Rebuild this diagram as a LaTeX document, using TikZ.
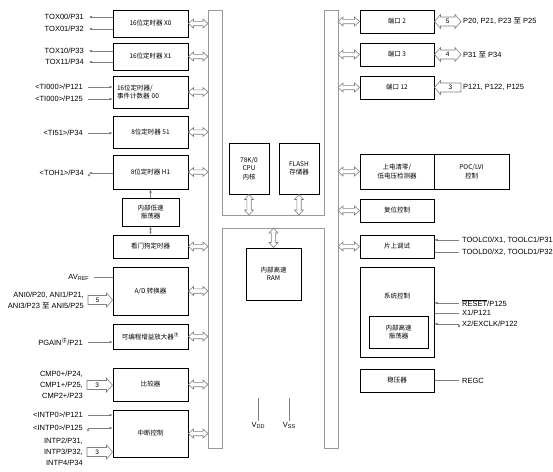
\documentclass[tikz,border=0pt]{standalone}
\usepackage{fontspec}
\setmainfont{Liberation Sans}
\newfontfamily\cjk{Noto Sans CJK SC}
\newcommand{\zh}[1]{{\cjk #1}}
\usetikzlibrary{positioning,arrows.meta,calc}

\begin{document}
\begin{tikzpicture}[x=1pt,y=-1pt,on grid,>={Latex[length=3pt,width=2.6pt]},
    font=\fontsize{7.5}{11}\selectfont,
    block node/.style={draw,line width=1pt,minimum width=75pt,inner sep=1pt,align=center,font=\cjk\fontsize{6.5}{8.5}\selectfont},
    pin label/.style={inner sep=1pt,align=right},
    pin line/.style={draw=black!50,line width=.5pt},
    bus wall/.style={draw=black!40,line width=.8pt},
    bus arrow/.style={draw=black!50,fill=white,line width=.6pt,to path={
      -- ($(\tikztostart)!5pt!(\tikztotarget)!4.5pt!90:(\tikztotarget)$)
      -- ($(\tikztostart)!5pt!(\tikztotarget)!2.2pt!90:(\tikztotarget)$)
      -- ($(\tikztotarget)!5pt!(\tikztostart)!2.2pt!-90:(\tikztostart)$)
      -- ($(\tikztotarget)!5pt!(\tikztostart)!4.5pt!-90:(\tikztostart)$)
      -- (\tikztotarget)
      -- ($(\tikztotarget)!5pt!(\tikztostart)!4.5pt!90:(\tikztostart)$)
      -- ($(\tikztotarget)!5pt!(\tikztostart)!2.2pt!90:(\tikztostart)$)
      -- ($(\tikztostart)!5pt!(\tikztotarget)!2.2pt!-90:(\tikztotarget)$)
      -- ($(\tikztostart)!5pt!(\tikztotarget)!4.5pt!-90:(\tikztotarget)$)
      -- cycle}},
    wide arrow/.style={draw=black!50,fill=white,line width=.6pt,to path={
      ($(\tikztostart)!4.5pt!90:(\tikztotarget)$)
      -- ($(\tikztotarget)!6pt!(\tikztostart)!4.5pt!-90:(\tikztostart)$)
      -- ($(\tikztotarget)!6pt!(\tikztostart)!7pt!-90:(\tikztostart)$)
      -- (\tikztotarget)
      -- ($(\tikztotarget)!6pt!(\tikztostart)!7pt!90:(\tikztostart)$)
      -- ($(\tikztotarget)!6pt!(\tikztostart)!4.5pt!90:(\tikztostart)$)
      -- ($(\tikztostart)!4.5pt!-90:(\tikztotarget)$)
      -- cycle}},
    wide both/.style={draw=black!50,fill=white,line width=.6pt,to path={
      -- ($(\tikztostart)!6pt!(\tikztotarget)!7pt!90:(\tikztotarget)$)
      -- ($(\tikztostart)!6pt!(\tikztotarget)!4.5pt!90:(\tikztotarget)$)
      -- ($(\tikztotarget)!6pt!(\tikztostart)!4.5pt!-90:(\tikztostart)$)
      -- ($(\tikztotarget)!6pt!(\tikztostart)!7pt!-90:(\tikztostart)$)
      -- (\tikztotarget)
      -- ($(\tikztotarget)!6pt!(\tikztostart)!7pt!90:(\tikztostart)$)
      -- ($(\tikztotarget)!6pt!(\tikztostart)!4.5pt!90:(\tikztostart)$)
      -- ($(\tikztostart)!6pt!(\tikztotarget)!4.5pt!-90:(\tikztotarget)$)
      -- ($(\tikztostart)!6pt!(\tikztotarget)!7pt!-90:(\tikztotarget)$)
      -- cycle}},
    num label/.style={font=\fontsize{6.5}{6.5}\selectfont,inner sep=0pt}]
    \useasboundingbox (0,0) rectangle (553,471);
    % internal bus
    \draw[bus wall] (208,10) -| (222,215) -| (324,10) -| (338,448) -| (324,228) -| (222,448) -- (208,448) -- cycle;
    \coordinate (busL) at (208,0);
    \coordinate (busR) at (338,0);
    \coordinate (busT) at (0,215);
    \coordinate (busB) at (0,228);

    % left column
    \node[block node,minimum height=27pt] (tx0) at (150.5,23.5) {16位定时器 X0};
    \node[block node,minimum height=27pt] (tx1) [below=33pt of tx0] {16位定时器 X1};
    \node[block node,minimum height=32pt,text width=67pt,align=left] (tm00) [below=35.5pt of tx1] {16位定时器/\\事件计数器 00};
    \node[block node,minimum height=32pt] (tm51) [below=40pt of tm00] {8位定时器 51};
    \node[block node,minimum height=34pt] (th1) [below=40pt of tm51] {8位定时器 H1};
    \node[block node,minimum height=28pt,minimum width=57pt] (losc) [below=40pt of th1] {内部低速\\振荡器};
    \node[block node,minimum height=23pt] (wdt) [below=34.5pt of losc] {看门狗定时器};
    \node[block node,minimum height=48pt] (adc) [below=44.5pt of wdt] {A/D 转换器};
    \node[block node,minimum height=25pt] (pga) [below=45.5pt of adc] {可编程增益放大器\textsuperscript{注}};
    \node[block node,minimum height=33pt] (cmp) [below=48pt of pga] {比较器};
    \node[block node,minimum height=47pt] (intc) [below=49pt of cmp] {中断控制};

    % core
    \node[block node,minimum width=40pt,minimum height=51pt] (cpu) at (249,168.5) {78K/0\\CPU\\内核};
    \node[block node,minimum width=40pt,minimum height=51pt] (flash) [right=50pt of cpu] {FLASH\\存储器};
    \node[block node,minimum width=55pt,minimum height=52pt] (ram) at (273.5,274) {内部高速\\RAM};

    % right column
    \node[block node,minimum width=74pt,minimum height=23pt] (p2) at (397,21.5) {端口 2};
    \node[block node,minimum width=74pt,minimum height=23pt] (p3) [below=33pt of p2] {端口 3};
    \node[block node,minimum width=74pt,minimum height=23pt] (p12) [below=33pt of p3] {端口 12};
    \node[block node,minimum width=74pt,minimum height=35pt] (poc) [below=84pt of p12] {上电清零/\\低电压检测器};
    \node[block node,minimum width=75pt,minimum height=35pt] (lvi) [right=74.5pt of poc] {POC/LVI\\控制};
    \node[block node,minimum width=74pt,minimum height=23pt] (rst) [below=39pt of poc] {复位控制};
    \node[block node,minimum width=74pt,minimum height=23pt] (ocd) [below=36pt of rst] {片上调试};
    \node[block node,minimum width=74pt,minimum height=90pt] (sysc) [below=65.5pt of ocd] {};
    \node[font=\cjk\fontsize{6.5}{8.5}\selectfont] (sysl) [below=23pt of sysc.north] {系统控制};
    \node[block node,minimum width=59pt,minimum height=32pt] (hosc) at (398.5,332) {内部高速\\振荡器};
    \node[block node,minimum width=74pt,minimum height=23pt] (reg) [below=68.5pt of sysc] {稳压器};

    % bus connections
    \draw[bus arrow] (tx0.east) to (tx0.east -| busL);
    \draw[bus arrow] (tx1.east) to (tx1.east -| busL);
    \draw[bus arrow] (tm00.east) to (tm00.east -| busL);
    \draw[bus arrow] (tm51.east) to (tm51.east -| busL);
    \draw[bus arrow] (th1.east) to (th1.east -| busL);
    \draw[bus arrow] (wdt.east) to (wdt.east -| busL);
    \draw[bus arrow] (adc.east) to (adc.east -| busL);
    \draw[bus arrow] (pga.east) to (pga.east -| busL);
    \draw[bus arrow] (cmp.east) to (cmp.east -| busL);
    \draw[bus arrow] (intc.east) to (intc.east -| busL);
    \draw[bus arrow] (p2.west) to (p2.west -| busR);
    \draw[bus arrow] (p3.west) to (p3.west -| busR);
    \draw[bus arrow] (p12.west) to (p12.west -| busR);
    \draw[bus arrow] (poc.west) to (poc.west -| busR);
    \draw[bus arrow] (rst.west) to (rst.west -| busR);
    \draw[bus arrow] (ocd.west) to (ocd.west -| busR);
    \draw[bus arrow] (cpu.south) to (cpu.south |- busT);
    \draw[bus arrow] (flash.south) to (flash.south |- busT);
    \draw[bus arrow] (ram.north) to (ram.north |- busB);

    \path[pin line,->]
    (losc.north) edge (th1.south)
    (losc.south) edge (wdt.north);

    % left pins
    \node[pin label,anchor=east] (ptox00) at (85,17) {TOX00/P31};
    \node[pin label,anchor=east] (ptox01) at (85,29) {TOX01/P32};
    \node[pin label,anchor=east] (ptox10) at (85,51) {TOX10/P33};
    \node[pin label,anchor=east] (ptox11) at (85,62) {TOX11/P34};
    \node[pin label,anchor=east] (pti0) at (84,87) {<TI000>/P121};
    \node[pin label,anchor=east] (pti1) at (84,99) {<TI000>/P125};
    \node[pin label,anchor=east] (pti51) at (84,133) {<TI51>/P34};
    \node[pin label,anchor=east] (ptoh1) at (85,173) {<TOH1>/P34};
    \node[pin label,anchor=east] (pavref) at (90,277) {AV\raisebox{-1pt}{\fontsize{5.5}{6}\selectfont REF}};
    \node[pin label,anchor=east] (pani) at (85,300) {ANI0/P20, ANI1/P21,\\ANI3/P23 \zh{至} ANI5/P25};
    \node[pin label,anchor=east] (ppga) at (84,342) {PGAIN\textsuperscript{\zh{注}}/P21};
    \node[pin label,anchor=east] (pcmp) at (84,385) {CMP0+/P24,\\CMP1+/P25,\\CMP2+/P23};
    \node[pin label,anchor=east] (pint0) at (84,415) {<INTP0>/P121};
    \node[pin label,anchor=east] (pint1) at (84,428) {<INTP0>/P125};
    \node[pin label,anchor=east] (pint2) at (84,452) {INTP2/P31,\\INTP3/P32,\\INTP4/P34};

    \path[pin line,<-]
    ([xshift=4pt]ptox00.east) edge (ptox00.east -| tx0.west)
    ([xshift=4pt]ptox01.east) edge (ptox01.east -| tx0.west)
    ([xshift=4pt]ptox10.east) edge (ptox10.east -| tx1.west)
    ([xshift=4pt]ptox11.east) edge (ptox11.east -| tx1.west)
    ([xshift=4pt]ptoh1.east) edge (ptoh1.east -| th1.west);
    \path[pin line,->]
    ([xshift=4pt]pti0.east) edge (pti0.east -| tm00.west)
    ([xshift=4pt]pti1.east) edge (pti1.east -| tm00.west)
    ([xshift=4pt]pti51.east) edge (pti51.east -| tm51.west)
    ([xshift=4pt]ppga.east) edge (ppga.east -| pga.west)
    ([xshift=4pt]pint0.east) edge (pint0.east -| intc.west)
    ([xshift=4pt]pint1.east) edge (pint1.east -| intc.west);
    \path[pin line]
    ([xshift=4pt]pavref.east) edge (pavref.east -| adc.west);
    \draw[wide arrow] ([xshift=3pt]pani.east) to (pani.east -| adc.west);
    \draw[wide arrow] ([xshift=3pt]pcmp.east) to (pcmp.east -| cmp.west);
    \draw[wide arrow] ([xshift=3pt]pint2.east) to (pint2.east -| intc.west);
    \path ([xshift=3pt]pani.east) -- node[num label,pos=.4] {5} (pani.east -| adc.west);
    \path ([xshift=3pt]pcmp.east) -- node[num label,pos=.4] {3} (pcmp.east -| cmp.west);
    \path ([xshift=3pt]pint2.east) -- node[num label,pos=.4] {3} (pint2.east -| intc.west);

    % right pins
    \node[pin label,anchor=west] (pp2) at (462,21.5) {P20, P21, P23 \zh{至} P25};
    \node[pin label,anchor=west] (pp3) at (462,54.5) {P31 \zh{至} P34};
    \node[pin label,anchor=west] (pp12) at (462,87.5) {P121, P122, P125};
    \node[pin label,anchor=west] (ptoolc) at (461,240) {TOOLC0/X1, TOOLC1/P31};
    \node[pin label,anchor=west] (ptoold) at (461,252) {TOOLD0/X2, TOOLD1/P32};
    \node[pin label,anchor=west] (preset) at (461,303) {$\overline{\mbox{RESET}}$/P125};
    \node[pin label,anchor=west] (px1) at (461,313) {X1/P121};
    \node[pin label,anchor=west] (px2) at (461,324) {X2/EXCLK/P122};
    \node[pin label,anchor=west] (pregc) at (461,380.5) {REGC};

    \draw[wide both] (p2.east) to ([xshift=-1pt]pp2.west);
    \draw[wide both] (p3.east) to ([xshift=-1pt]pp3.west);
    \draw[wide arrow] ([xshift=-1pt]pp12.west) to (p12.east);
    \path (p2.east) -- node[num label] {5} ([xshift=-1pt]pp2.west);
    \path (p3.east) -- node[num label] {4} ([xshift=-1pt]pp3.west);
    \path ([xshift=-1pt]pp12.west) -- node[num label,pos=.4] {3} (p12.east);
    \path[pin line,->]
    ([xshift=-2pt]ptoolc.west) edge (ptoolc.west -| ocd.east)
    ([xshift=-2pt]preset.west) edge (preset.west -| sysc.east)
    ([xshift=-2pt]px2.west) edge (px2.west -| sysc.east);
    \path[pin line]
    ([xshift=-2pt]ptoold.west) edge (ptoold.west -| ocd.east)
    ([xshift=-2pt]px1.west) edge (px1.west -| sysc.east)
    ([xshift=-2pt]pregc.west) edge (pregc.west -| reg.east);

    % supply pins
    \node[pin label] (vdd) at (258,425) {V\raisebox{-1pt}{\fontsize{5.5}{6}\selectfont DD}};
    \node[pin label] (vss) at (289,425) {V\raisebox{-1pt}{\fontsize{5.5}{6}\selectfont SS}};
    \coordinate (vddtop) at (258,398);
    \coordinate (vsstop) at (289,398);
    \path[pin line]
    (vddtop) edge (vdd.north)
    (vsstop) edge (vss.north);
\end{tikzpicture}
\end{document}
